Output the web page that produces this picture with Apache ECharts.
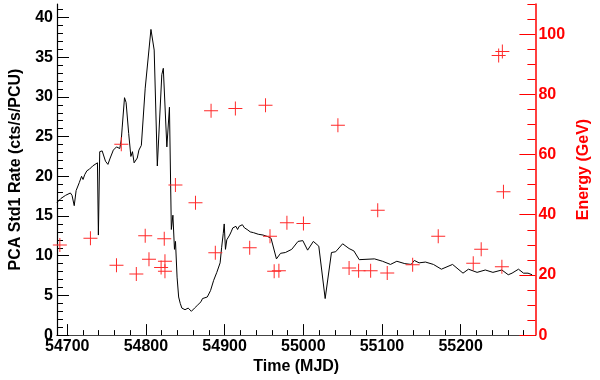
<!DOCTYPE html>
<html>
<head>
<meta charset="utf-8">
<script src="https://cdn.jsdelivr.net/npm/echarts@6/dist/echarts.min.js"></script>
<style>
html,body{margin:0;padding:0;background:#fff;}
#chart{width:600px;height:380px;}
</style>
</head>
<body>
<div id="chart"></div>
<script>
// ---- data ----
var rateT = [54687.0,54691.9,54697.9,54704.0,54706.1,54708.9,54711.3,54715.3,54718.2,54720.1,54722.2,54725.0,54728.3,54732.3,54738.4,54739.6,54741.3,54744.4,54748.6,54751.7,54754.6,54758.6,54762.6,54766.8,54768.7,54769.9,54772.8,54774.8,54778.1,54780.9,54782.9,54785.0,54789.0,54791.1,54794.2,54799.1,54806.4,54810.5,54814.5,54820.2,54822.1,54826.6,54829.9,54832.3,54834.3,54836.3,54837.6,54839.6,54841.6,54843.6,54845.7,54847.6,54849.7,54853.7,54857.8,54861.8,54865.9,54870.0,54871.9,54874.0,54878.0,54882.1,54886.1,54890.1,54894.3,54896.2,54898.3,54899.5,54901.1,54902.8,54904.3,54906.4,54908.3,54910.4,54914.4,54916.5,54918.5,54922.6,54925.3,54928.6,54932.6,54936.8,54942.8,54948.9,54955.0,54959.0,54965.9,54971.1,54977.2,54985.3,54993.3,54999.4,55005.5,55012.8,55019.7,55027.8,55035.8,55041.2,55050.0,55058.2,55064.3,55071.1,55090.5,55100.7,55110.8,55118.9,55129.0,55137.1,55141.1,55147.2,55155.3,55165.4,55175.5,55189.7,55203.0,55209.9,55220.9,55231.3,55241.0,55252.4,55260.5,55265.3,55273.5,55279.9,55285.6,55290.8];
var rateV = [16.7,17.2,17.6,17.9,17.6,16.3,18.2,19.2,20.0,19.6,20.2,20.7,20.9,21.3,21.7,12.6,23.1,23.2,21.9,21.5,22.3,23.3,23.7,23.5,24.6,26.2,29.9,29.3,25.4,22.5,23.1,21.7,22.3,23.3,23.9,31.1,38.5,35.9,21.3,32.8,33.6,23.7,28.7,13.3,15.1,10.8,11.8,7.3,4.8,4.0,3.4,3.6,3.2,3.4,3.0,3.4,3.8,4.2,4.6,4.4,4.8,5.6,6.9,7.9,9.1,11.0,12.8,14.0,10.8,12.0,11.8,12.6,13.0,13.5,13.7,13.3,13.7,13.9,13.5,13.3,13.0,12.9,12.7,12.6,12.4,12.2,9.6,10.3,10.4,10.8,11.8,11.9,10.7,11.8,11.2,4.6,10.4,10.5,11.5,10.9,10.6,9.5,9.6,9.3,8.9,9.3,9.0,8.9,9.4,9.1,9.2,8.9,8.3,8.9,7.8,8.3,7.9,8.2,7.9,8.2,7.6,7.8,8.3,7.8,7.8,7.6];

var energyT = [54690.6,54729.5,54762.6,54768.7,54787.8,54799.1,54803.9,54823.3,54819.3,54824.2,54824.2,54837.5,54863.0,54882.8,54888.2,54913.7,54931.9,54952.0,54957.7,54963.0,54969.0,54979.2,55000.2,55044.0,55058.2,55070.3,55085.6,55094.6,55106.7,55139.0,55171.5,55216.0,55226.1,55248.3,55253.0,55252.4,55254.4];
var energyV = [29.9,32.2,23.2,63.4,20.3,33.0,25.2,32.0,22.5,24.5,21.2,49.9,44.0,74.5,27.4,75.3,29.0,76.4,32.8,21.2,21.4,37.3,37.1,69.7,22.3,21.4,21.4,41.5,20.6,23.4,32.8,23.9,28.5,92.9,94.2,22.7,47.6];

var xMajor = [54700,54800,54900,55000,55100,55200];
var xMinor = [54720,54740,54760,54780,54820,54840,54860,54880,54920,54940,54960,54980,55020,55040,55060,55080,55120,55140,55160,55180,55220,55240,55260,55280];
var yLeftMajor = [0,5,10,15,20,25,30,35,40];
var yLeftMinor = [1,2,3,4,6,7,8,9,11,12,13,14,16,17,18,19,21,22,23,24,26,27,28,29,31,32,33,34,36,37,38,39,41];
var yRightMajor = [0,20,40,60,80,100];
var yRightMinor = [5,10,15,25,30,35,45,50,55,65,70,75,85,90,95,105,110];

var X_MIN = 54687, X_MAX = 55295;
var YL_MAX = 41.7, YR_MAX = 110;

// ---- chart ----
var FONT = "'Liberation Sans', Arial, Helvetica, sans-serif";
var lineData = rateT.map(function (t, i) { return [t, rateV[i]]; });
var crossData = energyT.map(function (t, i) { return [t, energyV[i]]; });
var CROSS = 'path://M0,6.5H14V7.5H0Z M6.5,0H7.5V14H6.5Z';

function fmt(v) { return String(v); }

var chart = echarts.init(document.getElementById('chart'), null, {renderer: 'canvas'});
chart.setOption({
  animation: false,
  backgroundColor: '#ffffff',
  grid: {left: 51, right: 48.5, top: 4, bottom: 37.5, containLabel: false},
  xAxis: [
    {
      type: 'value', min: X_MIN, max: X_MAX, position: 'bottom',
      axisLine: {show: true, lineStyle: {color: '#7a1212', width: 1.2}},
      axisTick: {show: true, inside: true, length: 11, customValues: xMajor, lineStyle: {color: '#000', width: 1}},
      axisLabel: {show: true, customValues: xMajor, formatter: fmt, margin: 3, fontSize: 16, fontWeight: 'bold', color: '#000', fontFamily: FONT},
      splitLine: {show: false},
      name: 'Time (MJD)', nameLocation: 'middle', nameGap: 21,
      nameTextStyle: {fontSize: 16, fontWeight: 'bold', color: '#000', fontFamily: FONT}
    },
    {
      type: 'value', min: X_MIN, max: X_MAX, position: 'bottom',
      axisLine: {show: false},
      axisTick: {show: true, inside: true, length: 5, customValues: xMinor, lineStyle: {color: '#000', width: 1}},
      axisLabel: {show: false},
      splitLine: {show: false}
    },
    {
      type: 'value', min: X_MIN, max: X_MAX, position: 'top',
      axisLine: {show: true, lineStyle: {color: '#444', width: 1.2}},
      axisTick: {show: false}, axisLabel: {show: false}, splitLine: {show: false}
    }
  ],
  yAxis: [
    {
      type: 'value', min: 0, max: YL_MAX, position: 'left',
      axisLine: {show: true, lineStyle: {color: '#000', width: 1.2}},
      axisTick: {show: true, inside: true, length: 12, customValues: yLeftMajor, lineStyle: {color: '#000', width: 1}},
      axisLabel: {show: true, customValues: yLeftMajor, formatter: fmt, margin: 4, fontSize: 16, fontWeight: 'bold', color: '#000', fontFamily: FONT},
      splitLine: {show: false},
      name: 'PCA Std1 Rate (cts/s/PCU)', nameLocation: 'middle', nameGap: 33, nameRotate: 90,
      nameTextStyle: {fontSize: 16, fontWeight: 'bold', color: '#000', fontFamily: FONT}
    },
    {
      type: 'value', min: 0, max: YL_MAX, position: 'left',
      axisLine: {show: false},
      axisTick: {show: true, inside: true, length: 6, customValues: yLeftMinor, lineStyle: {color: '#000', width: 1}},
      axisLabel: {show: false}, splitLine: {show: false}
    },
    {
      type: 'value', min: 0, max: YR_MAX, position: 'right',
      axisLine: {show: true, lineStyle: {color: '#ff0000', width: 1.5}},
      axisTick: {show: true, inside: true, length: 16, customValues: yRightMajor, lineStyle: {color: '#ff0000', width: 1}},
      axisLabel: {show: true, customValues: yRightMajor, formatter: fmt, margin: 3, fontSize: 16, fontWeight: 'bold', color: '#ff0000', fontFamily: FONT},
      splitLine: {show: false},
      name: 'Energy (GeV)', nameLocation: 'middle', nameGap: 36, nameRotate: 90,
      nameTextStyle: {fontSize: 16, fontWeight: 'bold', color: '#ff0000', fontFamily: FONT}
    },
    {
      type: 'value', min: 0, max: YR_MAX, position: 'right',
      axisLine: {show: false},
      axisTick: {show: true, inside: true, length: 8, customValues: yRightMinor, lineStyle: {color: '#ff0000', width: 1}},
      axisLabel: {show: false}, splitLine: {show: false}
    }
  ],
  series: [
    {
      type: 'line', xAxisIndex: 0, yAxisIndex: 0, data: lineData,
      showSymbol: false, symbol: 'none', smooth: false,
      lineStyle: {color: '#000', width: 1}, z: 2
    },
    {
      type: 'scatter', xAxisIndex: 0, yAxisIndex: 2, data: crossData,
      symbol: CROSS, symbolSize: 14, symbolKeepAspect: true,
      itemStyle: {color: '#ff2a2a', opacity: 1}, z: 3
    }
  ]
});
</script>
</body>
</html>
